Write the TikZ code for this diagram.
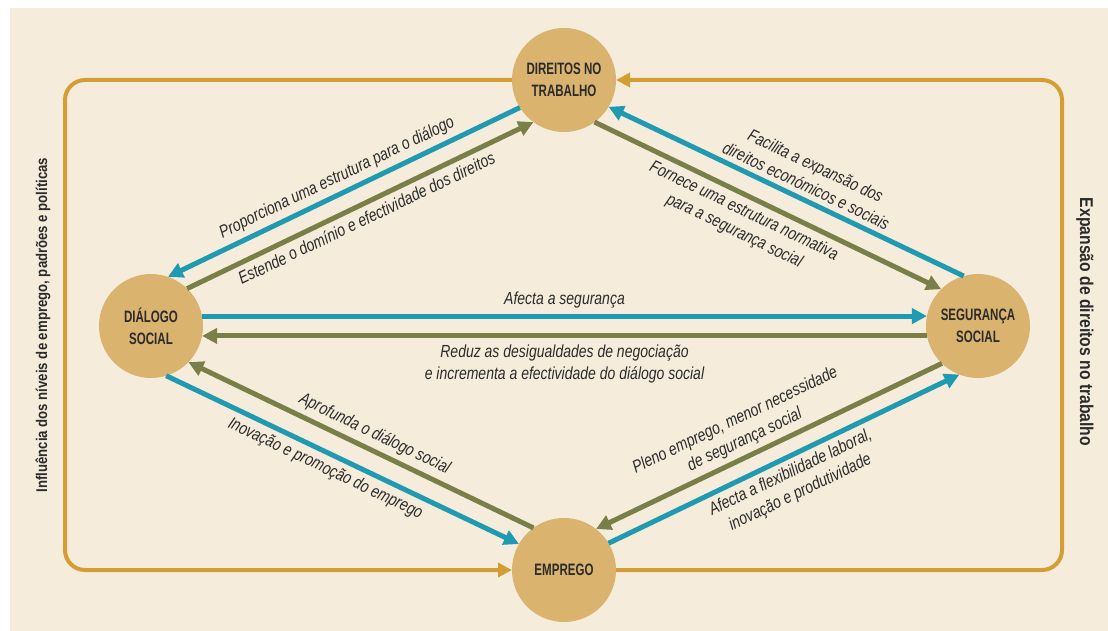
\documentclass[tikz,border=0pt]{standalone}
\usepackage{fontspec}
\setmainfont{Liberation Sans}[FakeStretch=0.8]
\newfontfamily\hubfont{Liberation Sans}[FakeStretch=0.7]
\newfontfamily\sidefont{Liberation Sans}[FakeStretch=0.85]
\usetikzlibrary{arrows.meta}
\definecolor{bg}{HTML}{F5ECDB}
\definecolor{disc}{HTML}{DAB36F}
\definecolor{framec}{HTML}{D59E35}
\definecolor{tealc}{HTML}{1F9AB1}
\definecolor{olivec}{HTML}{7A7F47}
\definecolor{ink}{HTML}{2B2B2B}
\begin{document}
\begin{tikzpicture}[x=1pt,y=-1pt,
  hub/.style={circle, fill=disc, minimum size=104pt, inner sep=0pt, outer sep=0pt,
    align=center, font=\hubfont\bfseries\fontsize{16.5}{22}\selectfont, text=ink},
  tealarrow/.style={draw=tealc, line width=5pt, -{Triangle[length=15pt,width=15pt]}},
  olivearrow/.style={draw=olivec, line width=5pt, -{Triangle[length=15pt,width=15pt]}},
  framearrow/.style={draw=framec, line width=4pt, rounded corners=20pt, -{Triangle[length=14pt,width=14pt]}},
  lbl/.style={font=\itshape\fontsize{17.5}{22}\selectfont, text=ink, align=center, sloped, inner sep=2pt},
  side/.style={font=\sidefont\bfseries, text=ink}
]
\useasboundingbox (0,0) rectangle (1108,631);
\fill[bg] (10,8) rectangle (1108,631);

\node[hub] (d) at (564,80) {DIREITOS NO\\TRABALHO};
\node[hub] (ds) at (151,326) {DIÁLOGO\\SOCIAL};
\node[hub] (ss) at (978,326) {SEGURANÇA\\SOCIAL};
\node[hub] (e) at (564,570) {EMPREGO};

\draw[framearrow] (d.west) -- (65,80) -- (65,570) -- (e.west);
\draw[framearrow] (e.east) -- (1062,570) -- (1062,80) -- (d.east);

\node[side, rotate=90, font=\sidefont\bfseries\fontsize{15.5}{18}\selectfont] (lt) at (43,325) {Influência dos níveis de emprego, padrões e políticas};
\node[side, rotate=-90, font=\sidefont\bfseries\fontsize{18.5}{20}\selectfont] (rt) at (1085,322) {Expansão de direitos no trabalho};

% top-left
\draw[tealarrow] (d.212) -- node[lbl, above=3pt, pos=0.5] {Proporciona uma estrutura para o diálogo} (ds.71);
\draw[olivearrow] (ds.46) -- node[lbl, below=3pt, pos=0.5] {Estende o domínio e efectividade dos direitos} (d.234);
% top-right
\draw[tealarrow] (ss.106) -- node[lbl, above=3pt, pos=0.46] {Facilita a expansão dos\\direitos económicos e sociais} (d.329);
\draw[olivearrow] (d.306) -- node[lbl, below=3pt, pos=0.45] {Fornece uma estrutura normativa\\para a segurança social} (ss.135);
% horizontal
\draw[tealarrow] (ds.11) -- node[lbl, above=3pt, pos=0.5] {Afecta a segurança} (ss.169);
\draw[olivearrow] (ss.191) -- node[lbl, below=4pt, pos=0.5] {Reduz as desigualdades de negociação\\e incrementa a efectividade do diálogo social} (ds.349);
% bottom-left
\draw[olivearrow] (e.126) -- node[lbl, above=3pt, pos=0.48] {Aprofunda o diálogo social} (ds.316);
\draw[tealarrow] (ds.287) -- node[lbl, below=3pt, pos=0.47] {Inovação e promoção do emprego} (e.150);
% bottom-right
\draw[olivearrow] (ss.226) -- node[lbl, above=3pt, pos=0.55] {Pleno emprego, menor necessidade\\de segurança social} (e.52);
\draw[tealarrow] (e.31) -- node[lbl, below=3pt, pos=0.5] {Afecta a flexibilidade laboral,\\inovação e produtividade} (ss.249);
\end{tikzpicture}
\end{document}
